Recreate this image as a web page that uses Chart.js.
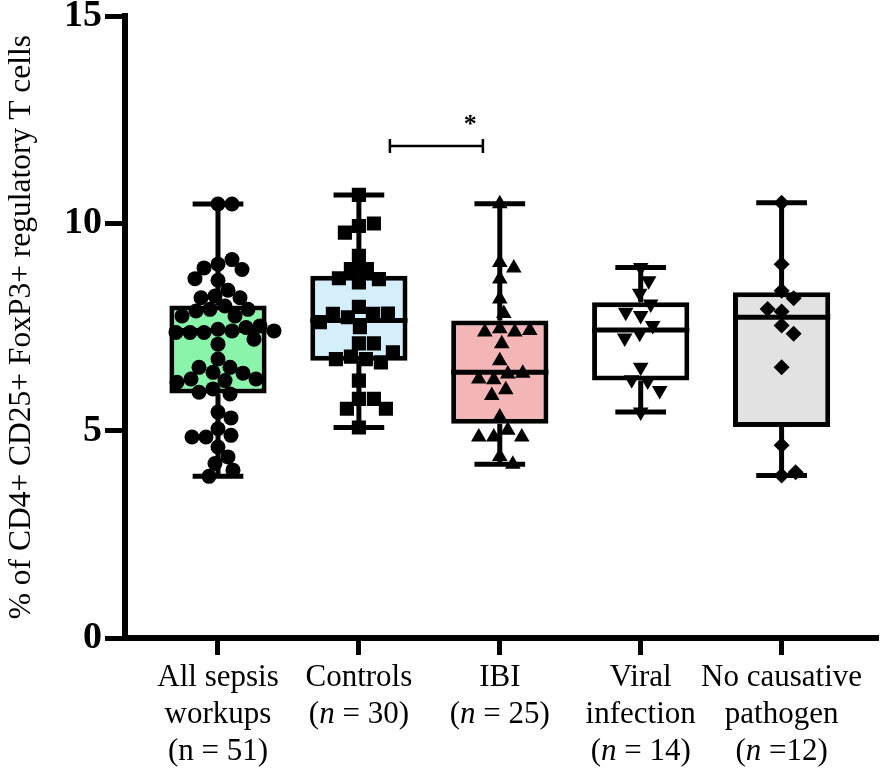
<!DOCTYPE html>
<html>
<head>
<meta charset="utf-8">
<script src="https://cdn.jsdelivr.net/npm/chart.js@4.4.1/dist/chart.umd.min.js"></script>
<style>
  html, body { margin: 0; padding: 0; background: #fff; }
</style>
</head>
<body>
<canvas id="chart" width="886" height="771"></canvas>
<script>
// categories (text between _ is drawn in italic)
const categories = [
  ['All sepsis', 'workups', '(n = 51)'],
  ['Controls', '(_n_ = 30)'],
  ['IBI', '(_n_ = 25)'],
  ['Viral', 'infection', '(_n_ = 14)'],
  ['No causative', 'pathogen', '(_n_ =12)']
];
const yTicks = [0, 5, 10, 15];
const yTitle = '% of CD4+ CD25+ FoxP3+ regulatory T cells';

// individual values
const sepsisValues = [10.47, 10.47, 9.02, 9.13, 8.93, 8.89, 8.63, 8.67, 8.39, 8.25, 8.21, 8.21,
  8.01, 7.93, 7.89, 7.93, 7.77, 7.77, 7.45, 7.41, 7.37, 7.49, 7.53, 7.37, 7.37, 7.41, 7.21, 7.09,
  6.73, 6.53, 6.41, 6.53, 6.39, 6.21, 6.25, 6.25, 6.17, 6.01, 5.89, 5.93, 5.45, 5.31, 5.05, 4.89,
  4.85, 4.85, 4.61, 4.37, 4.21, 4.05, 3.90];
const controlValues = [10.69, 9.94, 10.0, 9.78, 9.22, 8.90, 8.90, 8.66, 8.58, 8.68, 7.99, 7.82,
  7.74, 7.82, 7.83, 7.50, 7.62, 7.11, 7.11, 6.79, 6.73, 6.65, 6.73, 6.89, 6.21, 5.77, 5.77, 5.53,
  5.53, 5.08];
const ibiValues = [10.48, 9.06, 8.93, 8.66, 8.18, 7.83, 7.46, 7.38, 7.38, 7.42, 7.10, 6.69, 6.37,
  6.23, 6.25, 6.39, 5.99, 5.85, 5.33, 5.01, 4.85, 4.85, 4.85, 4.38, 4.19];
const viralValues = [8.94, 8.62, 8.32, 8.06, 7.78, 7.86, 7.54, 7.35, 7.24, 6.53, 6.20, 6.23, 5.97, 5.45];
const unknownValues = [10.5, 9.02, 8.38, 8.20, 7.88, 7.94, 7.54, 7.34, 6.53, 4.65, 3.92, 4.00];

// box plot summaries (min to max whiskers)
const boxMin = [3.90, 5.08, 4.19, 5.45, 3.92];
const boxQ1 = [5.90, 6.69, 5.17, 6.21, 5.09];
const boxMedian = [7.42, 7.66, 6.41, 7.43, 7.74];
const boxQ3 = [8.02, 8.74, 7.66, 8.10, 8.34];
const boxMax = [10.47, 10.69, 10.48, 8.94, 10.5];

// significance bracket between Controls and IBI
const sigFrom = 2.22;
const sigTo = 2.88;
const sigLevel = 11.87;
const sigText = '*';

const groupValues = [sepsisValues, controlValues, ibiValues, viralValues, unknownValues];
const boxColors = ['#8af5aa', '#d5effa', '#f3b5b5', '#ffffff', '#e2e2e2'];
const pointStyles = ['circle', 'rect', 'triangle', 'triangle', 'rectRot'];
const pointRadii = [7.5, 10, 9, 9, 8];
const pointRotations = [0, 0, 0, 180, 0];
const swarmDist = [14, 15, 15, 15, 14];

const FONT = '"Liberation Serif", "Times New Roman", serif';
const halfBox = 0.345;
const halfCap = 0.18;
const tick = 0.17;

// whiskers, caps, medians as broken line segments
const whiskerData = [];
const medianData = [];
categories.forEach((c, i) => {
  const x = i + 1;
  whiskerData.push({ x, y: boxMin[i] }, { x, y: boxQ1[i] }, { x, y: null });
  whiskerData.push({ x, y: boxQ3[i] }, { x, y: boxMax[i] }, { x, y: null });
  whiskerData.push({ x: x - halfCap, y: boxMin[i] }, { x: x + halfCap, y: boxMin[i] }, { x, y: null });
  whiskerData.push({ x: x - halfCap, y: boxMax[i] }, { x: x + halfCap, y: boxMax[i] }, { x, y: null });
  medianData.push({ x: x - halfBox, y: boxMedian[i] }, { x: x + halfBox, y: boxMedian[i] }, { x, y: null });
});
const bracketData = [
  { x: sigFrom, y: sigLevel + tick }, { x: sigFrom, y: sigLevel - tick }, { x: sigFrom, y: null },
  { x: sigFrom, y: sigLevel }, { x: sigTo, y: sigLevel }, { x: sigTo, y: null },
  { x: sigTo, y: sigLevel + tick }, { x: sigTo, y: sigLevel - tick }
];

const pointSets = groupValues.map((vals, i) => ({
  type: 'scatter',
  data: vals.map(v => ({ x: i + 1, y: v })),
  pointStyle: pointStyles[i],
  pointRadius: pointRadii[i],
  pointRotation: pointRotations[i],
  backgroundColor: '#000',
  borderColor: '#000',
  borderWidth: 0,
  order: 0
}));

const segmentStyle = {
  type: 'line',
  borderColor: '#000',
  borderWidth: 5,
  pointRadius: 0,
  spanGaps: false,
  fill: false,
  order: 1
};

// category labels with italic parts + the asterisk
const textPlugin = {
  id: 'textPlugin',
  afterDraw(chart) {
    const { ctx, chartArea, scales: { x, y } } = chart;
    ctx.save();
    ctx.fillStyle = '#000';
    ctx.textBaseline = 'middle';
    ctx.textAlign = 'left';
    categories.forEach((lines, i) => {
      const cx = x.getPixelForValue(i + 1);
      lines.forEach((line, j) => {
        const ty = chartArea.bottom + 40 + j * 37;
        const parts = line.split('_').map((text, k) => ({
          text, font: (k % 2 ? 'italic ' : '') + '31px ' + FONT
        }));
        let total = 0;
        parts.forEach(p => { ctx.font = p.font; p.w = ctx.measureText(p.text).width; total += p.w; });
        let px = cx - total / 2;
        parts.forEach(p => { ctx.font = p.font; ctx.fillText(p.text, px, ty); px += p.w; });
      });
    });
    ctx.font = 'bold 26px ' + FONT;
    ctx.textAlign = 'center';
    ctx.fillText(sigText, x.getPixelForValue(2.79), y.getPixelForValue(12.38));
    ctx.restore();
  }
};

const chart = new Chart(document.getElementById('chart'), {
  type: 'scatter',
  data: {
    datasets: [
      ...pointSets,
      { ...segmentStyle, data: whiskerData },
      { ...segmentStyle, data: medianData },
      { ...segmentStyle, data: bracketData, borderWidth: 2.5 },
      {
        type: 'bar',
        data: categories.map((c, i) => ({ x: i + 1, y: [boxQ1[i], boxQ3[i]] })),
        backgroundColor: boxColors,
        borderColor: '#000',
        borderWidth: 5,
        borderSkipped: false,
        barPercentage: 0.69,
        categoryPercentage: 1,
        order: 2
      }
    ]
  },
  options: {
    responsive: false,
    devicePixelRatio: 1,
    animation: false,
    events: [],
    layout: { padding: { top: 15, right: 3, left: 0, bottom: 0 } },
    plugins: { legend: { display: false }, tooltip: { enabled: false } },
    scales: {
      x: {
        type: 'linear',
        min: 0.34,
        max: 5.67,
        offset: false,
        afterBuildTicks: s => { s.ticks = categories.map((c, i) => ({ value: i + 1 })); },
        afterFit: s => { s.height = 133; },
        ticks: { display: false },
        grid: { offset: false, drawOnChartArea: false, drawTicks: true, tickLength: 17, lineWidth: 5, color: '#000' },
        border: { display: true, width: 6, color: '#000' }
      },
      y: {
        type: 'linear',
        min: 0,
        max: 15,
        afterBuildTicks: s => { s.ticks = yTicks.map(v => ({ value: v })); },
        afterFit: s => { s.width = 125; },
        ticks: { font: { family: FONT, size: 38, weight: 'bold', lineHeight: 0.7 }, color: '#000', padding: 3 },
        grid: { offset: false, drawOnChartArea: false, drawTicks: true, tickLength: 20, lineWidth: 5, color: '#000' },
        border: { display: true, width: 6, color: '#000' },
        title: {
          display: true,
          text: yTitle,
          color: '#000',
          font: { family: FONT, size: 31.5 },
          padding: { top: 3, bottom: 0 }
        }
      }
    }
  },
  plugins: [textPlugin]
});

// spread the dots sideways like a beeswarm so they do not pile up
function swarm(values, center, dist) {
  const xs = chart.scales.x, ys = chart.scales.y;
  const cx = xs.getPixelForValue(center);
  const placed = [];
  return values.map(v => {
    const py = ys.getPixelForValue(v);
    let off = 0;
    for (let k = 0; k < 400; k++) {
      const cand = k === 0 ? 0 : (k % 2 ? (k + 1) / 2 : -k / 2);
      if (placed.every(p => Math.hypot(p.x - cand, p.y - py) >= dist)) { off = cand; break; }
    }
    placed.push({ x: off, y: py });
    return { x: xs.getValueForPixel(cx + off), y: v };
  });
}

groupValues.forEach((vals, i) => {
  chart.data.datasets[i].data = swarm(vals, i + 1, swarmDist[i]);
});
chart.update('none');
</script>
</body>
</html>
